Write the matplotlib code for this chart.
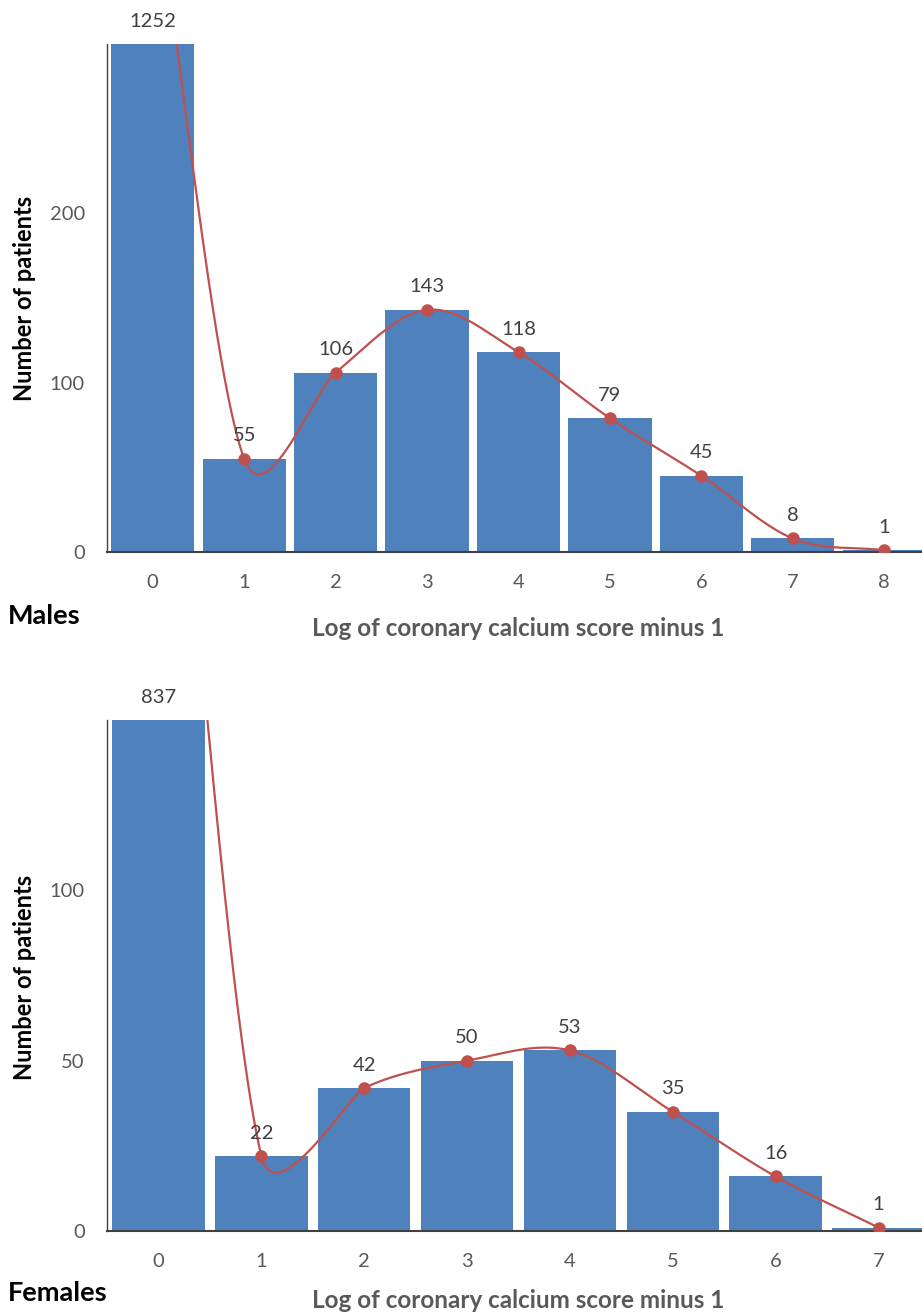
import numpy as np
import matplotlib
matplotlib.use("Agg")
import matplotlib.pyplot as plt

plt.rcParams['font.family'] = ['Lato', 'DejaVu Sans']

# ---- data ----
male_bins = [0, 1, 2, 3, 4, 5, 6, 7, 8]
male_counts = [1252, 55, 106, 143, 118, 79, 45, 8, 1]
female_bins = [0, 1, 2, 3, 4, 5, 6, 7]
female_counts = [837, 22, 42, 50, 53, 35, 16, 1]
male_yticks = [0, 100, 200]
female_yticks = [0, 50, 100]
male_ylim = 300
female_ylim = 150
xlabel_text = "Log of coronary calcium score minus 1"
ylabel_text = "Number of patients"

# rendering: off-scale values are clipped to this level before smoothing
male_curve_clip = 400
female_curve_clip = 300

BAR = '#4F81BD'
LINE = '#C0504D'
TICK = '#595959'
LAB = '#404040'

W, H = 922, 1313
fig = plt.figure(figsize=(W / 100, H / 100), dpi=100)


def px_axes(left, right, top, bottom):
    return [left / W, (H - bottom) / H, (right - left) / W, (bottom - top) / H]


def excel_smooth(P):
    """Excel-like Bezier smoothing (Murphy's reverse-engineered rules), display space."""
    n = len(P)
    out = [P[0]]
    t = np.linspace(0, 1, 80)[1:][:, None]
    for i in range(n - 1):
        p1, p2 = P[i], P[i + 1]
        p0 = P[i - 1] if i > 0 else p1
        p3 = P[i + 2] if i + 2 < n else p2
        d02 = np.hypot(*(p2 - p0))
        d12 = np.hypot(*(p2 - p1))
        d13 = np.hypot(*(p3 - p1))
        c1 = d02 / 6 >= d12 / 2
        c2 = d13 / 6 >= d12 / 2
        if not c1 and not c2:
            f1 = 1 / 6 if i > 0 else 1 / 3
            f2 = 1 / 6 if i + 2 < n else 1 / 3
        elif c1 and c2:
            f1 = d12 / 2 / d02
            f2 = d12 / 2 / d13
        elif c1:
            f1 = d12 / 2 / d02
            f2 = d12 / 2 / d02
        else:
            f1 = d12 / 2 / d13
            f2 = d12 / 2 / d13
        b1 = p1 + (p2 - p0) * f1
        b2 = p2 - (p3 - p1) * f2
        seg = ((1 - t) ** 3) * p1 + 3 * ((1 - t) ** 2) * t * b1 + \
            3 * (1 - t) * t ** 2 * b2 + t ** 3 * p2
        out.extend(seg)
    return np.array(out)


def panel(pos, bins, counts, yticks, ylim, clip, width, title, title_y, xlab_y, ylab_y):
    ax = fig.add_axes(pos)
    ax.set_xlim(-0.5, len(bins) - 0.5)
    ax.set_ylim(0, ylim)
    ax.bar(bins, counts, width=width, color=BAR, zorder=1)
    # smoothed line
    yc = np.minimum(np.asarray(counts, float), clip)
    xy = np.column_stack([bins, yc]).astype(float)
    disp = ax.transData.transform(xy)
    curve = ax.transData.inverted().transform(excel_smooth(disp))
    ax.plot(curve[:, 0], curve[:, 1], color=LINE, lw=1.6, zorder=3)
    ax.plot(bins, counts, 'o', color=LINE, ms=8, zorder=4)
    for b, c in zip(bins, counts):
        yy = min(c, ylim)
        ax.annotate(str(c), (b, yy), xytext=(0, 16.5), textcoords='offset points',
                    ha='center', va='center', fontsize=14.5, color=LAB,
                    annotation_clip=False)
    ax.set_xticks(bins)
    ax.set_yticks(yticks)
    ax.tick_params(axis='both', length=0, labelsize=14.5, labelcolor=TICK)
    ax.tick_params(axis='x', pad=16)
    ax.tick_params(axis='y', pad=16)
    for s in ['top', 'right']:
        ax.spines[s].set_visible(False)
    ax.spines['left'].set_color('#404040')
    ax.spines['left'].set_linewidth(1.0)
    ax.spines['bottom'].set_color('#404040')
    ax.spines['bottom'].set_linewidth(1.5)
    fig.text(8 / W, 1 - title_y / H, title, fontsize=19.5, fontweight='bold',
             ha='left', va='center', color='black')
    fig.text(518 / W, 1 - xlab_y / H, xlabel_text, fontsize=17.5, fontweight='bold',
             ha='center', va='center', color=TICK)
    fig.text(25 / W, 1 - ylab_y / H, ylabel_text, fontsize=17, fontweight='bold',
             ha='center', va='center', rotation=90, color='black')
    return ax


panel(px_axes(107, 930, 44, 552), male_bins, male_counts, male_yticks, male_ylim,
      male_curve_clip, 0.91, "Males", 616, 628, 298)
panel(px_axes(107, 930, 720, 1231), female_bins, female_counts, female_yticks,
      female_ylim, female_curve_clip, 0.9, "Females", 1293, 1300, 977)

fig.savefig("out.png", dpi=100)
